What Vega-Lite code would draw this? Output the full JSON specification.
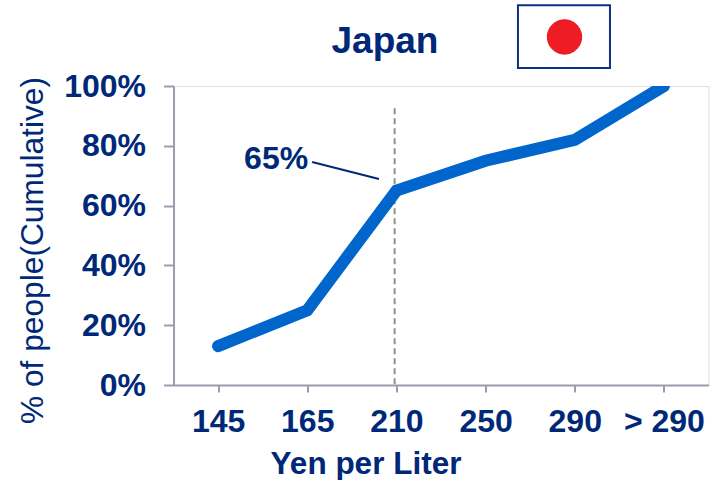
{
  "$schema": "https://vega.github.io/schema/vega-lite/v6.json",
  "width": 535,
  "height": 299,
  "padding": {"left": 173.5, "top": 86, "right": 6.5, "bottom": 95},
  "autosize": "none",
  "background": "white",
  "datasets": {
    "curve": [
      {"step": 0, "price": "145", "share": 13},
      {"step": 1, "price": "165", "share": 25},
      {"step": 2, "price": "210", "share": 65},
      {"step": 3, "price": "250", "share": 75},
      {"step": 4, "price": "290", "share": 82},
      {"step": 5, "price": "> 290", "share": 100}
    ],
    "marker": [{"step": 1.98, "top": 92.6, "bottom": 0}],
    "leader": [{"x0": 1.054, "y0": 74.6, "x1": 1.805, "y1": 68.9}],
    "note": [{"x": 1.01, "y": 72.2, "label": "65%"}],
    "heading": [{"x": 1.872, "y": 111.2, "label": "Japan"}],
    "flag": [{"x0": 3.363, "x1": 4.395, "y0": 106, "y1": 127, "cx": 3.885, "cy": 116.4}]
  },
  "layer": [
    {
      "data": {"name": "marker"},
      "mark": {"type": "rule", "color": "#8f8f8f", "strokeWidth": 2, "strokeDash": [6, 4]},
      "encoding": {
        "x": {"field": "step", "type": "quantitative"},
        "y": {"field": "top", "type": "quantitative"},
        "y2": {"field": "bottom"}
      }
    },
    {
      "data": {"name": "curve"},
      "mark": {"type": "line", "color": "#0066CC", "strokeWidth": 12, "strokeCap": "round", "strokeJoin": "miter", "clip": true},
      "encoding": {
        "x": {
          "field": "step",
          "type": "quantitative",
          "scale": {"domain": [-0.5, 5.5], "nice": false, "zero": false},
          "axis": {
            "values": [0, 1, 2, 3, 4, 5],
            "labelExpr": "['145','165','210','250','290','> 290'][datum.value]",
            "title": "Yen per Liter",
            "grid": false,
            "tickSize": 7,
            "tickWidth": 2,
            "tickColor": "#9c9cb0",
            "domainColor": "#9c9cb0",
            "domainWidth": 2,
            "labelFont": "Liberation Sans",
            "labelFontSize": 32,
            "labelFontWeight": "bold",
            "labelColor": "#002878",
            "labelPadding": 14,
            "labelOverlap": false,
            "labelFlush": false,
            "titleFont": "Liberation Sans",
            "titleFontSize": 31.5,
            "titleFontWeight": "bold",
            "titleColor": "#002878",
            "titleX": 192,
            "titleY": 88,
            "titleBaseline": "alphabetic"
          }
        },
        "y": {
          "field": "share",
          "type": "quantitative",
          "scale": {"domain": [0, 100], "nice": false},
          "axis": {
            "values": [0, 20, 40, 60, 80, 100],
            "labelExpr": "datum.value + '%'",
            "title": "% of people(Cumulative)",
            "grid": false,
            "tickSize": 10,
            "tickWidth": 2,
            "tickColor": "#9c9cb0",
            "domainColor": "#9c9cb0",
            "domainWidth": 2,
            "labelFont": "Liberation Sans",
            "labelFontSize": 32,
            "labelFontWeight": "bold",
            "labelColor": "#002878",
            "labelPadding": 18,
            "labelOverlap": false,
            "labelFlush": false,
            "titleFont": "Liberation Sans",
            "titleFontSize": 31.7,
            "titleFontWeight": "normal",
            "titleColor": "#002878",
            "titleX": -131,
            "titleY": 164,
            "titleBaseline": "alphabetic"
          }
        }
      }
    },
    {
      "data": {"name": "leader"},
      "mark": {"type": "rule", "color": "#002878", "strokeWidth": 2},
      "encoding": {
        "x": {"field": "x0", "type": "quantitative"},
        "x2": {"field": "x1"},
        "y": {"field": "y0", "type": "quantitative"},
        "y2": {"field": "y1"}
      }
    },
    {
      "data": {"name": "note"},
      "mark": {"type": "text", "font": "Liberation Sans", "fontSize": 32, "fontWeight": "bold", "color": "#002878", "align": "right", "baseline": "alphabetic"},
      "encoding": {
        "x": {"field": "x", "type": "quantitative"},
        "y": {"field": "y", "type": "quantitative"},
        "text": {"field": "label"}
      }
    },
    {
      "data": {"name": "heading"},
      "mark": {"type": "text", "font": "Liberation Sans", "fontSize": 37, "fontWeight": "bold", "color": "#002878", "align": "center", "baseline": "alphabetic"},
      "encoding": {
        "x": {"field": "x", "type": "quantitative"},
        "y": {"field": "y", "type": "quantitative"},
        "text": {"field": "label"}
      }
    },
    {
      "data": {"name": "flag"},
      "mark": {"type": "rect", "fill": "white", "stroke": "#0f2f80", "strokeWidth": 2, "clip": false},
      "encoding": {
        "x": {"field": "x0", "type": "quantitative"},
        "x2": {"field": "x1"},
        "y": {"field": "y0", "type": "quantitative"},
        "y2": {"field": "y1"}
      }
    },
    {
      "data": {"name": "flag"},
      "mark": {"type": "point", "shape": "circle", "filled": true, "fill": "#ee1c25", "stroke": "#e8141c", "strokeWidth": 1, "opacity": 1, "size": 1180, "clip": false},
      "encoding": {
        "x": {"field": "cx", "type": "quantitative"},
        "y": {"field": "cy", "type": "quantitative"}
      }
    }
  ]
}
